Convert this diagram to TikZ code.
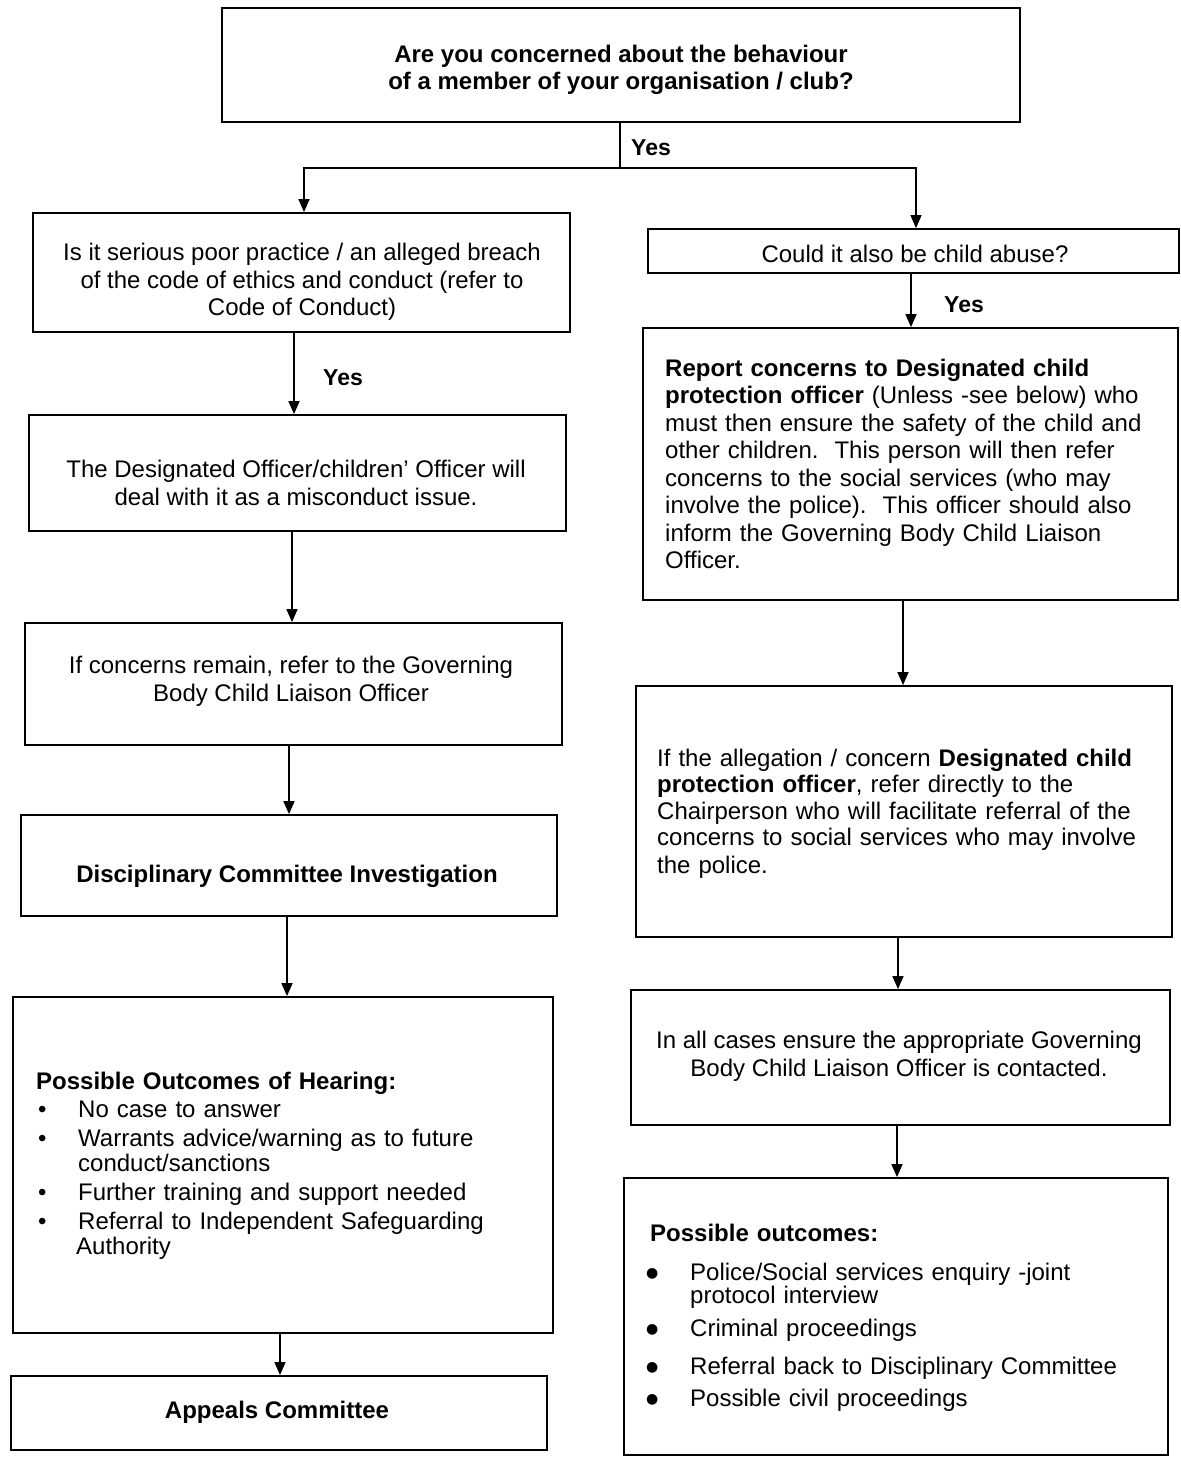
\documentclass[tikz,border=0pt]{standalone}
\usepackage{fontspec}
\setmainfont{Liberation Sans}
\newfontfamily\dejavu{DejaVu Sans}
\usetikzlibrary{arrows.meta,fit}
\newcommand{\bigdot}{\makebox[44pt][l]{\raisebox{3pt}{\dejavu\fontsize{14}{14}\selectfont ●}}}
\newcommand{\smalldot}{\makebox[42pt][l]{\hspace{2pt}•}}
\begin{document}
\begin{tikzpicture}[x=1pt,y=-1pt,
  box/.style={draw, line width=1.8pt, inner sep=0pt},
  ctext/.style={inner sep=0pt, align=center, font=\fontsize{24}{27.5}\selectfont},
  ltext/.style={inner sep=0pt, align=left, anchor=west, font=\fontsize{24}{27.5}\selectfont},
  conn/.style={line width=1.5pt},
  arr/.style={line width=1.5pt, -{Triangle[width=11pt,length=13pt]}},
  yeslab/.style={font=\fontsize{23}{27}\selectfont\bfseries, inner sep=0pt}]
\useasboundingbox (0,0) rectangle (1180,1458);

% boxes
\node[box, fit={(222,8) (1020,122)}] (top) {};
\node[box, fit={(33,213) (570,332)}] (A) {};
\node[box, fit={(29,415) (566,531)}] (C) {};
\node[box, fit={(25,623) (562,745)}] (D) {};
\node[box, fit={(21,815) (557,916)}] (E) {};
\node[box, fit={(13,997) (553,1333)}] (F) {};
\node[box, fit={(11,1376) (547,1450)}] (G) {};
\node[box, fit={(648,229) (1179,273)}] (B) {};
\node[box, fit={(643,328) (1178,600)}] (H) {};
\node[box, fit={(636,686) (1172,937)}] (I) {};
\node[box, fit={(631,990) (1170,1125)}] (J) {};
\node[box, fit={(624,1178) (1168,1455)}] (K) {};

% texts
\node[ctext] (topt) at (621,70)
  {\bfseries Are you concerned about the behaviour\\ \bfseries of a member of your organisation / club?};
\node[ctext] (At) at (302,282)
  {Is it serious poor practice / an alleged breach\\ of the code of ethics and conduct (refer to\\ Code of Conduct)};
\node[ctext] (Ct) at (296,483)
  {The Designated Officer/children' Officer will\\ deal with it as a misconduct issue.};
\node[ctext] (Dt) at (291,681.5)
  {If concerns remain, refer to the Governing\\ Body Child Liaison Officer};
\node[ctext] (Et) at (287,876.5)
  {\bfseries Disciplinary Committee Investigation};
\node[ltext, text width=494pt] (Ft) at (36,1166)
  {\fontsize{24}{24.5}\selectfont\textbf{Possible Outcomes of Hearing:}\\[3pt]
   \smalldot No case to answer\\[5pt]
   \smalldot Warrants advice/warning as to future\\[0pt]
   \hspace*{42pt}conduct/sanctions\\[5pt]
   \smalldot Further training and support needed\\[4pt]
   \smalldot Referral to Independent Safeguarding\\[-2pt]
   \hspace*{40pt}Authority};
\node[ctext] (Gt) at (277,1412.5)
  {\bfseries Appeals Committee};
\node[ctext] (Bt) at (915,254)
  {Could it also be child abuse?};
\node[ltext, text width=500pt] (Ht) at (665,464)
  {\textbf{Report concerns to Designated child}\\
   \textbf{protection officer} (Unless -see below) who\\
   must then ensure the safety of the child and\\
   other children.\ \ This person will then refer\\
   concerns to the social services (who may\\
   involve the police).\ \ This officer should also\\
   inform the Governing Body Child Liaison\\
   Officer.};
\node[ltext, text width=500pt] (It) at (657,813.5)
  {\fontsize{24}{26.5}\selectfont If the allegation / concern \textbf{Designated child}\\
   \textbf{protection officer}, refer directly to the\\
   Chairperson who will facilitate referral of the\\
   concerns to social services who may involve\\
   the police.};
\node[ctext] (Jt) at (899,1056.5)
  {In all cases ensure the appropriate Governing\\ Body Child Liaison Officer is contacted.};
\node[ltext, text width=510pt] (Kt) at (646,1318)
  {\fontsize{24}{23}\selectfont\hspace*{4pt}\textbf{Possible outcomes:}\\[16pt]
   \bigdot Police/Social services enquiry -joint\\[0pt]
   \hspace*{44pt}protocol interview\\[10pt]
   \bigdot Criminal proceedings\\[15pt]
   \bigdot Referral back to Disciplinary Committee\\[4pt]
   \bigdot Possible civil proceedings};

% connectors
\coordinate (split) at (620,168);
\draw[conn] (top.south -| split) -- (split);
\draw[arr] (split) -| (A.north -| 304,0);
\draw[arr] (split) -| (B.north -| 916,0);
\node[yeslab] (yes1) at (651,148) {Yes};

\draw[arr] (A.south -| 294,0) -- (C.north -| 294,0);
\node[yeslab] (yes2) at (343,378) {Yes};
\draw[arr] (C.south -| 292,0) -- (D.north -| 292,0);
\draw[arr] (D.south -| 289,0) -- (E.north -| 289,0);
\draw[arr] (E.south -| 287,0) -- (F.north -| 287,0);
\draw[arr] (F.south -| 280,0) -- (G.north -| 280,0);

\draw[arr] (B.south -| 911,0) -- (H.north -| 911,0);
\node[yeslab] (yes3) at (964,305) {Yes};
\draw[arr] (H.south -| 903,0) -- (I.north -| 903,0);
\draw[arr] (I.south -| 898,0) -- (J.north -| 898,0);
\draw[arr] (J.south -| 897,0) -- (K.north -| 897,0);
\end{tikzpicture}
\end{document}
